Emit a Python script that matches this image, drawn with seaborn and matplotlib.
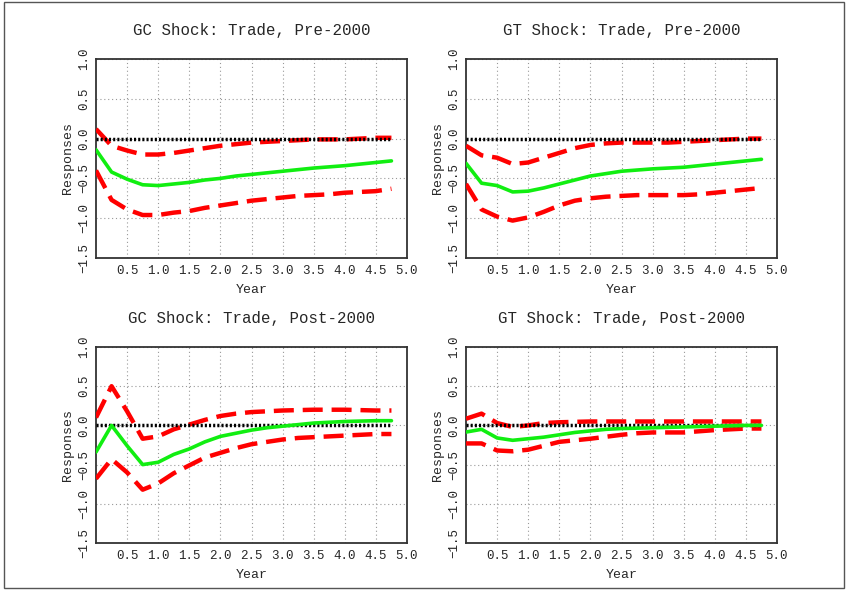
import numpy as np
import pandas as pd
import matplotlib
matplotlib.use("Agg")
import matplotlib.pyplot as plt
import seaborn as sns

sns.set_theme(style="white")
plt.rcParams['font.family'] = ['Liberation Mono', 'DejaVu Sans']

years = [0.0, 0.25, 0.5, 0.75, 1.0, 1.25, 1.5, 1.75, 2.0, 2.25, 2.5, 2.75,
         3.0, 3.25, 3.5, 3.75, 4.0, 4.25, 4.5, 4.75]

titles = ["GC Shock: Trade, Pre-2000", "GT Shock: Trade, Pre-2000",
          "GC Shock: Trade, Post-2000", "GT Shock: Trade, Post-2000"]

# GC Pre-2000
gc_pre_mid = [-0.14, -0.42, -0.51, -0.58, -0.59, -0.57, -0.55, -0.52, -0.50, -0.47, -0.45, -0.43,
              -0.41, -0.39, -0.37, -0.355, -0.34, -0.32, -0.30, -0.28]
gc_pre_up = [0.12, -0.09, -0.15, -0.20, -0.20, -0.18, -0.15, -0.12, -0.09, -0.07, -0.05, -0.04,
             -0.03, -0.02, -0.01, -0.01, -0.01, 0.0, 0.01, 0.01]
gc_pre_lo = [-0.40, -0.77, -0.89, -0.96, -0.96, -0.93, -0.91, -0.87, -0.84, -0.81, -0.78, -0.76,
             -0.74, -0.72, -0.71, -0.70, -0.68, -0.67, -0.66, -0.63]

# GT Pre-2000
gt_pre_mid = [-0.31, -0.56, -0.59, -0.67, -0.66, -0.62, -0.57, -0.52, -0.47, -0.44, -0.41, -0.395,
              -0.38, -0.37, -0.36, -0.34, -0.32, -0.30, -0.28, -0.26]
gt_pre_up = [-0.09, -0.21, -0.24, -0.32, -0.30, -0.24, -0.18, -0.12, -0.08, -0.06, -0.05, -0.05,
             -0.05, -0.05, -0.04, -0.03, -0.02, -0.01, 0.0, 0.0]
gt_pre_lo = [-0.57, -0.89, -0.98, -1.03, -0.99, -0.92, -0.84, -0.78, -0.75, -0.73, -0.72, -0.71,
             -0.71, -0.71, -0.71, -0.70, -0.68, -0.66, -0.64, -0.62]

# GC Post-2000
gc_post_mid = [-0.34, 0.0, -0.26, -0.50, -0.47, -0.37, -0.30, -0.21, -0.14, -0.10, -0.06, -0.03,
               -0.01, 0.01, 0.03, 0.04, 0.05, 0.055, 0.06, 0.06]
gc_post_up = [0.10, 0.50, 0.18, -0.17, -0.14, -0.05, 0.01, 0.07, 0.12, 0.15, 0.17, 0.18,
              0.19, 0.195, 0.20, 0.20, 0.20, 0.195, 0.19, 0.19]
gc_post_lo = [-0.68, -0.43, -0.60, -0.82, -0.74, -0.61, -0.51, -0.41, -0.35, -0.29, -0.24, -0.21,
              -0.18, -0.16, -0.15, -0.14, -0.13, -0.12, -0.11, -0.11]

# GT Post-2000
gt_post_mid = [-0.085, -0.05, -0.16, -0.19, -0.17, -0.15, -0.12, -0.09, -0.07, -0.05, -0.04, -0.035,
               -0.03, -0.025, -0.02, -0.015, -0.01, -0.005, 0.0, 0.0]
gt_post_up = [0.085, 0.15, 0.03, -0.02, 0.0, 0.03, 0.04, 0.045, 0.05, 0.05, 0.05, 0.05,
              0.05, 0.05, 0.05, 0.05, 0.05, 0.05, 0.05, 0.05]
gt_post_lo = [-0.23, -0.23, -0.32, -0.33, -0.31, -0.26, -0.21, -0.19, -0.17, -0.145, -0.12, -0.10,
              -0.09, -0.09, -0.09, -0.075, -0.06, -0.05, -0.04, -0.04]

panels = [
    (gc_pre_mid, gc_pre_up, gc_pre_lo),
    (gt_pre_mid, gt_pre_up, gt_pre_lo),
    (gc_post_mid, gc_post_up, gc_post_lo),
    (gt_post_mid, gt_post_up, gt_post_lo),
]

W, H = 846, 590
fig = plt.figure(figsize=(W / 100, H / 100), dpi=100)

# axes boxes in pixels: (left, top, right, bottom)
boxes = [
    (96, 59, 407, 258),
    (466, 59, 777, 258),
    (96, 347, 407, 543),
    (466, 347, 777, 543),
]

xticks = [0.5, 1.0, 1.5, 2.0, 2.5, 3.0, 3.5, 4.0, 4.5, 5.0]
yticks = [-1.5, -1.0, -0.5, 0.0, 0.5, 1.0]

for (l, t, r, b), title, (mid, up, lo) in zip(boxes, titles, panels):
    ax = fig.add_axes([l / W, 1 - b / H, (r - l) / W, (b - t) / H])
    df = pd.DataFrame({"Year": years, "mid": mid, "up": up, "lo": lo,
                       "zero": [0.0] * len(years)})
    sns.lineplot(data=df, x="Year", y="up", ax=ax, color="#ff0000", lw=3.2,
                 zorder=3).lines[-1].set_dashes([4.5, 2.0])
    sns.lineplot(data=df, x="Year", y="lo", ax=ax, color="#ff0000", lw=3.2,
                 zorder=3).lines[-1].set_dashes([4.5, 2.0])
    sns.lineplot(data=df, x="Year", y="zero", ax=ax, color="black", lw=2.5,
                 zorder=4).lines[-1].set_dashes([0.6, 0.6])
    sns.lineplot(data=df, x="Year", y="mid", ax=ax, color="#11ee11", lw=2.6, zorder=5)

    ax.set_xlim(0, 5.0)
    ax.set_ylim(-1.5, 1.0)
    ax.set_xticks(xticks)
    ax.set_yticks(yticks)
    ax.set_xticklabels([f"{v:.1f}" for v in xticks], fontsize=9)
    ax.set_yticklabels([f"{v:.1f}".replace("-", "\u2212") for v in yticks],
                       fontsize=9, rotation=90, va="center")
    ax.tick_params(axis="x", length=0, pad=5)
    ax.tick_params(axis="y", length=0, pad=4)
    ax.grid(True, color="#999999", linestyle=(0, (1, 2.5)), linewidth=0.8)
    for sp in ax.spines.values():
        sp.set_color("#333333")
        sp.set_linewidth(1.3)
    ax.set_xlabel("Year", fontsize=9.5, labelpad=5)
    ax.set_ylabel("Responses", fontsize=9.5, labelpad=3)
    ax.set_title(title, fontsize=11.3, pad=17)

# figure border
border = plt.Rectangle((4 / W, 2 / H), (W - 6) / W, (H - 4) / H,
                       transform=fig.transFigure, fill=False,
                       edgecolor="#555555", linewidth=1.0)
fig.patches.append(border)

fig.savefig("out.png", dpi=100)
